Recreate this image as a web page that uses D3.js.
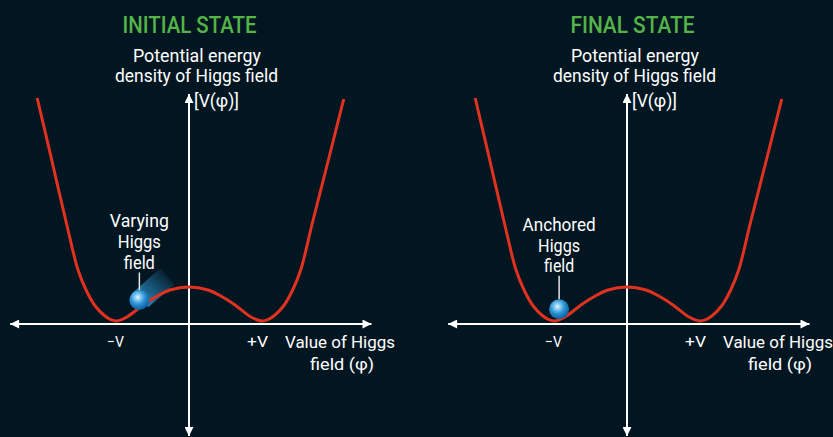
<!DOCTYPE html>
<html><head><meta charset="utf-8">
<script src="https://cdn.jsdelivr.net/npm/d3@7"></script>
<style>html,body{margin:0;padding:0;background:#021622;}svg{display:block;}</style>
</head><body>
<svg id="c" width="833" height="437"></svg>
<script>
// ---- data ----
const phi       = [-2.08,-1.89,-1.68,-1.52,-1.41,-1.29,-1.16,-1.07,-0.99,-0.85,-0.63,-0.46,-0.26,0,0.26,0.46,0.63,0.85,1.0,1.08,1.17,1.30,1.42,1.53,1.69,1.92,2.12];
const potential = [226,167,101,54,34,18.5,8.5,4.3,3,7,19,27,34,37,34,27,19,7,3,4.3,8.5,18.5,34,54,101,167,225];
const panelTitles = ["INITIAL STATE","FINAL STATE"];
const fieldLabels = [["Varying","Higgs","field"],["Anchored","Higgs","field"]];
const ballPhi = [-0.68,-0.93];
const ballV   = [24,14.7];
const tickPhi = [-1,1];
const tickLabels = ["\u2212V","+V"];
const yAxisTitle = ["Potential energy","density of Higgs field"];
const yAxisSymbol = "[V(\u03c6)]";
const xAxisTitle = ["Value of Higgs","field (\u03c6)"];

// ---- layout ----
const W=833,H=437, panelOffset=[0,438];
const x = d3.scaleLinear().domain([-2.5,2.5]).range([6.5,371.5]);
const y = d3.scaleLinear().domain([0,100]).range([324,224]);
const xExtent=[-2.45,2.5], yExtent=[-112,230];
const font="Roboto, 'Open Sans', sans-serif";

const svg=d3.select("#c");
svg.append("rect").attr("width",W).attr("height",H).attr("fill","#021622");
const defs=svg.append("defs");
const mk=defs.append("marker").attr("id","ah").attr("viewBox","0 0 10 10").attr("refX",10).attr("refY",5)
  .attr("markerWidth",10).attr("markerHeight",9).attr("markerUnits","userSpaceOnUse").attr("orient","auto-start-reverse");
mk.append("path").attr("d","M0,0 L10,5 L0,10 Z").attr("fill","#fff");
const rg=defs.append("radialGradient").attr("id","ball").attr("cx","42%").attr("cy","36%").attr("r","64%");
[[0,"#f2faff"],[0.18,"#9ad6f6"],[0.55,"#2b93d3"],[1,"#0a5d9c"]].forEach(s=>rg.append("stop").attr("offset",s[0]).attr("stop-color",s[1]));
const lg=defs.append("linearGradient").attr("id","trail").attr("gradientUnits","objectBoundingBox")
  .attr("x1","0.1").attr("y1","0.9").attr("x2","0.9").attr("y2","0.1");
lg.append("stop").attr("offset",0).attr("stop-color","#2f95cf").attr("stop-opacity",0.95);
lg.append("stop").attr("offset",1).attr("stop-color","#2f95cf").attr("stop-opacity",0);

function txt(g,t,cx,by,size,len,anchor,fill,weight){
  return g.append("text").attr("x",cx).attr("y",by).attr("text-anchor",anchor||"middle")
   .attr("font-family",font).attr("font-size",size).attr("font-weight",weight||400)
   .attr("fill",fill||"#fff").attr("textLength",len).attr("lengthAdjust","spacingAndGlyphs").text(t);
}
const titleW=[134,124];
const labelW=[[59,43,31],[73,42,30]];
const labelBase=[[227.3,248.3,268.5],[230.7,251.7,271.7]];
const tickW=[17,21];

panelTitles.forEach((title,i)=>{
  const g=svg.append("g").attr("transform",`translate(${panelOffset[i]},0)`);
  txt(g,title,x(0)+0.5+(i?5:0),32.5,24,titleW[i],"middle","#55b447",500);
  txt(g,yAxisTitle[0],x(0)+8,62,17.5,128);
  txt(g,yAxisTitle[1],x(0)+7.5,82,17.5,163);
  txt(g,yAxisSymbol,x(0)+5,106.5,17.5,45,"start");
  g.append("line").attr("x1",x(xExtent[0])).attr("x2",x(xExtent[1])).attr("y1",y(0)).attr("y2",y(0))
   .attr("stroke","#fff").attr("stroke-width",2).attr("marker-start","url(#ah)").attr("marker-end","url(#ah)");
  g.append("line").attr("x1",x(0)).attr("x2",x(0)).attr("y1",y(yExtent[1])).attr("y2",y(yExtent[0]))
   .attr("stroke","#fff").attr("stroke-width",2).attr("marker-start","url(#ah)").attr("marker-end","url(#ah)");
  tickPhi.forEach((p,j)=>txt(g,tickLabels[j],x(p)+(j?-4.5:-0.5),347,15.5,tickW[j]));
  txt(g,xAxisTitle[0],340,347.5,17,110);
  txt(g,xAxisTitle[1],342,370,17,64);
  const bx=x(ballPhi[i]), by=y(ballV[i]);
  if(i===0){
    g.append("path").attr("d",`M${bx-7},${by-7} L${bx+21},${by-32} L${bx+35},${by-15} L${bx+9},${by+7} Z`)
     .attr("fill","url(#trail)");
  }
  g.append("path").datum(phi.map((p,k)=>[p,potential[k]]))
   .attr("d",d3.line().x(d=>x(d[0])).y(d=>y(d[1])).curve(d3.curveCatmullRom.alpha(0.5)))
   .attr("fill","none").attr("stroke","#e0321f").attr("stroke-width",3);
  g.append("line").attr("x1",bx).attr("x2",bx).attr("y1",labelBase[i][2]+4).attr("y2",by-10)
   .attr("stroke","#e6e6e6").attr("stroke-width",1.5);
  fieldLabels[i].forEach((t,k)=>txt(g,t,bx,labelBase[i][k],17.5,labelW[i][k]));
  g.append("circle").attr("cx",bx).attr("cy",by).attr("r",10).attr("fill","url(#ball)");
});
</script>
</body></html>
